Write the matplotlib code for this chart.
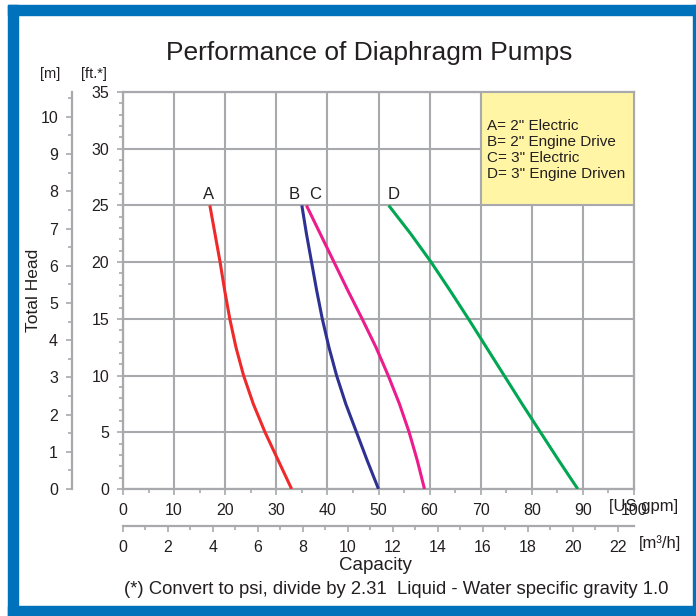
import numpy as np
import matplotlib
matplotlib.use("Agg")
import matplotlib.pyplot as plt
from matplotlib.patches import Rectangle
from matplotlib.ticker import MultipleLocator

plt.rcParams['font.family'] = ['Liberation Sans', 'DejaVu Sans']

# head values (ft) where each curve was read
head_ft = [25, 22.5, 20, 17.5, 15, 12.5, 10, 7.5, 5, 2.5, 0]
# capacity in US gpm for each pump
cap_a = [17.0, 18.0, 19.0, 19.9, 20.9, 22.1, 23.6, 25.5, 27.8, 30.4, 33.0]
cap_b = [35.0, 35.9, 36.9, 37.9, 39.0, 40.3, 41.8, 43.6, 45.7, 47.8, 50.0]
cap_c = [35.9, 38.6, 41.3, 44.0, 46.8, 49.5, 51.9, 54.1, 56.0, 57.6, 59.0]
cap_d = [52.0, 56.3, 60.3, 64.0, 67.6, 71.1, 74.6, 78.1, 81.7, 85.3, 89.0]
curve_names = ['A', 'B', 'C', 'D']
legend_lines = ['A= 2" Electric', 'B= 2" Engine Drive',
                'C= 3" Electric', 'D= 3" Engine Driven']

grey = '#A7A9AC'
txt = '#231F20'
colors = ['#EE2A2A', '#2E3192', '#EC1C8C', '#00A651']

fig = plt.figure(figsize=(6.96, 6.16), dpi=100)
W, H = 696, 616

# blue frame
blue = '#0072BC'
fig.patches.append(Rectangle((8 / W, 0), 10 / W, 611 / H, transform=fig.transFigure, color=blue, zorder=0))
fig.patches.append(Rectangle((8 / W, 601 / H), 688 / W, 10 / H, transform=fig.transFigure, color=blue, zorder=0))
fig.patches.append(Rectangle((8 / W, 0), 688 / W, 10 / H, transform=fig.transFigure, color=blue, zorder=0))
fig.patches.append(Rectangle((693 / W, 0), 3 / W, 611 / H, transform=fig.transFigure, color=blue, zorder=0))

ax = fig.add_axes([123 / W, (616 - 489) / H, 511 / W, 397 / H])
ax.set_xlim(0, 100)
ax.set_ylim(0, 35)

for s in ax.spines.values():
    s.set_color(grey)
    s.set_linewidth(1.6)

ax.xaxis.set_major_locator(MultipleLocator(10))
ax.xaxis.set_minor_locator(MultipleLocator(5))
ax.yaxis.set_major_locator(MultipleLocator(5))
ax.yaxis.set_minor_locator(MultipleLocator(1))
ax.grid(True, which='major', color=grey, linewidth=1.5)
ax.tick_params(which='both', colors=grey, labelcolor=txt, labelsize=11.5, width=1.2)
ax.tick_params(which='major', length=4)
ax.tick_params(which='minor', length=3)
ax.tick_params(axis='y', pad=6)
ax.set_axisbelow(True)

for caps, c in zip([cap_a, cap_b, cap_c, cap_d], colors):
    ax.plot(caps, head_ft, color=c, linewidth=2.2, solid_capstyle='butt', zorder=3)

label_off = [0.0, -1.2, 2.0, 1.2]
for caps, name, off in zip([cap_a, cap_b, cap_c, cap_d], curve_names, label_off):
    ax.text(caps[0] + off - 0.3, 25.3, name, ha='center', va='bottom', fontsize=12, color=txt)

# legend box
ax.add_patch(Rectangle((70, 25), 30, 10, facecolor='#FFF5A5', edgecolor=grey, linewidth=1.5, zorder=4))
for i, line in enumerate(legend_lines):
    ax.text(71.3, 32.0 - i * 1.42, line, fontsize=11, color=txt, va='center', zorder=5)

# metric axes
ft_per_m = 3.28084
gpm_per_m3h = 4.40287
ay = ax.secondary_yaxis(-51 / 511, functions=(lambda f: f / ft_per_m, lambda m: m * ft_per_m))
ay.yaxis.set_major_locator(MultipleLocator(1))
ay.yaxis.set_minor_locator(MultipleLocator(0.5))
ay.spines['left'].set_color(grey)
ay.spines['left'].set_linewidth(1.6)
ay.tick_params(which='both', colors=grey, labelcolor=txt, labelsize=11.5, width=1.2, pad=6)
ay.tick_params(which='major', length=4)
ay.tick_params(which='minor', length=3)

axx = ax.secondary_xaxis(-37 / 397, functions=(lambda g: g / gpm_per_m3h, lambda q: q * gpm_per_m3h))
axx.xaxis.set_minor_locator(MultipleLocator(1))
axx.set_xticks(np.arange(0, 23, 2))
axx.spines['bottom'].set_color(grey)
axx.spines['bottom'].set_linewidth(1.6)
axx.tick_params(which='both', colors=grey, labelcolor=txt, labelsize=11.5, width=1.2, pad=6)
axx.tick_params(which='major', length=4)
axx.tick_params(which='minor', length=3)
ax.tick_params(axis='x', pad=6)

# text
fig.text(369 / W, 1 - 53 / H, 'Performance of Diaphragm Pumps', fontsize=19, color=txt, ha='center', va='center')
fig.text(33 / W, 1 - 290 / H, 'Total Head', rotation=90, fontsize=12.5, color=txt, ha='center', va='center')
fig.text(50 / W, 1 - 74 / H, '[m]', fontsize=10.5, color=txt, ha='center', va='center')
fig.text(94 / W, 1 - 74 / H, '[ft.*]', fontsize=10.5, color=txt, ha='center', va='center')
fig.text(609 / W, 1 - 507 / H, '[US gpm]', fontsize=12, color=txt, ha='left', va='center')
fig.text(639 / W, 1 - 543 / H, '[m³/h]', fontsize=12, color=txt, ha='left', va='center')
fig.text(375 / W, 1 - 566 / H, 'Capacity', fontsize=13.5, color=txt, ha='center', va='center')
fig.text(396 / W, 1 - 590 / H, '(*) Convert to psi, divide by 2.31  Liquid - Water specific gravity 1.0',
         fontsize=13.3, color=txt, ha='center', va='center')

fig.savefig('out.png', dpi=100)
